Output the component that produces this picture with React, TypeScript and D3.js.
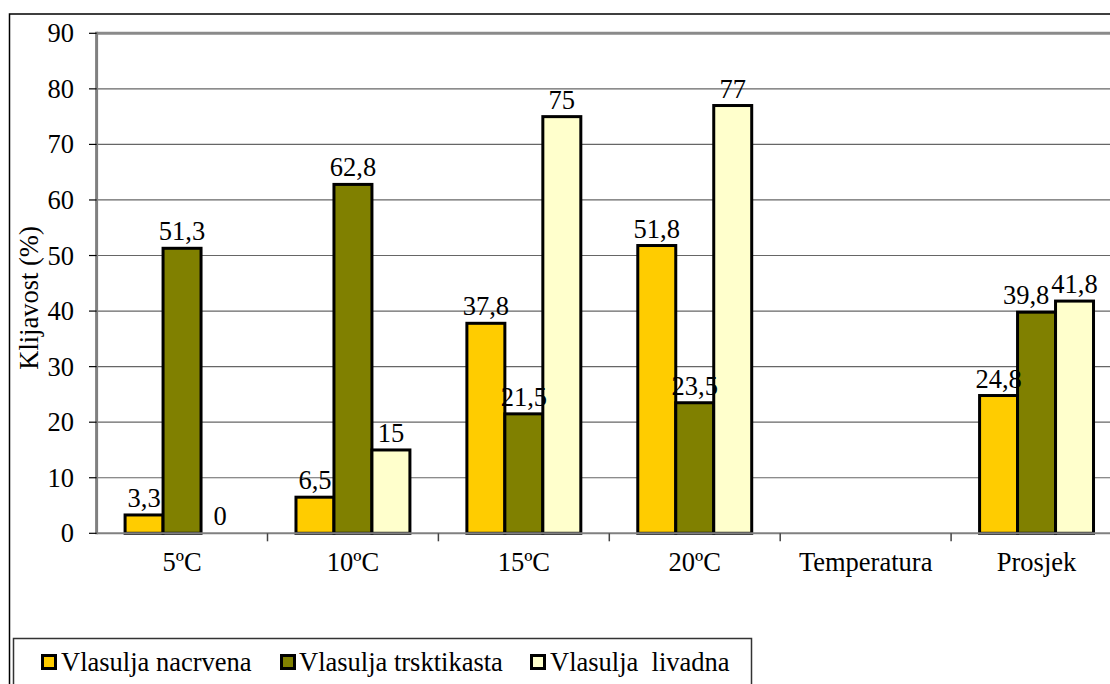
import React from "react";
import * as d3 from "d3";

const categories = ["5ºC", "10ºC", "15ºC", "20ºC", "Temperatura", "Prosjek"];
const seriesNames = ["Vlasulja nacrvena", "Vlasulja trsktikasta", "Vlasulja  livadna"];
const nacrvena: (number | null)[] = [3.3, 6.5, 37.8, 51.8, null, 24.8];
const trsktikasta: (number | null)[] = [51.3, 62.8, 21.5, 23.5, null, 39.8];
const livadna: (number | null)[] = [0, 15, 75, 77, null, 41.8];
const yTicks = [0, 10, 20, 30, 40, 50, 60, 70, 80, 90];
const colors = ["#FFCC00", "#808000", "#FFFFCC"];
const yTitle = "Klijavost (%)";

const W = 1110;
const H = 684;
const FONT = "Liberation Serif, Times New Roman, DejaVu Serif, serif";
const FS = 26.5;

export default function App() {
  const plotLeft = 96.6;
  const plotRight = 1122;
  const plotTop = 33.3;
  const plotBottom = 533.3;

  const x = d3.scaleBand<string>().domain(categories).range([plotLeft, plotRight]).paddingInner(0).paddingOuter(0);
  const y = d3.scaleLinear().domain([0, 90]).range([plotBottom, plotTop]);
  const bw = x.bandwidth() / 4.5;
  const inner = d3
    .scaleBand<string>()
    .domain(seriesNames)
    .range([(x.bandwidth() - 3 * bw) / 2, (x.bandwidth() + 3 * bw) / 2]);

  const allSeries = [nacrvena, trsktikasta, livadna];
  const fmt = (v: number) => String(v).replace(".", ",");
  const textW = (s: string) =>
    s.split("").reduce((a, ch) => a + (ch === "," ? 0.25 : 0.5), 0) * FS;

  // label placement with simple collision avoidance inside each category
  type Lbl = { key: string; x: number; y: number; text: string };
  const labels: Lbl[] = [];
  categories.forEach((c, ci) => {
    const group: Lbl[] = [];
    allSeries.forEach((s, si) => {
      const v = s[ci];
      if (v === null) return;
      group.push({
        key: `l${si}-${ci}`,
        x: (x(c) as number) + (inner(seriesNames[si]) as number) + bw / 2,
        y: y(v) - 8,
        text: fmt(v),
      });
    });
    for (let i = group.length - 2; i >= 0; i--) {
      const a = group[i];
      const b = group[i + 1];
      if (Math.abs(a.y - b.y) < FS * 0.75) {
        const overlap = a.x + textW(a.text) / 2 - (b.x - textW(b.text) / 2);
        if (overlap > -1) a.x -= overlap + 2;
      }
    }
    labels.push(...group);
  });

  const legendItems = [
    { mx: 41, tx: 61 },
    { mx: 280, tx: 299 },
    { mx: 530, tx: 550 },
  ];

  const T = (props: any) => <text fontFamily={FONT} fontSize={FS} fill="#000" {...props} />;

  return (
    <div style={{ position: "absolute", left: 0, top: 0, width: W, height: H, overflow: "hidden", background: "#fff" }}>
      <svg width={W} height={H} style={{ display: "block" }} fontFamily={FONT}>
        <rect x={0} y={0} width={W} height={H} fill="#fff" />
        {/* outer chart border */}
        <rect x={9.5} y={14} width={1200} height={800} fill="none" stroke="#000" strokeWidth={1.5} />

        {/* gridlines */}
        {yTicks.slice(1, -1).map((t) => (
          <line key={"g" + t} x1={plotLeft} x2={plotRight} y1={y(t)} y2={y(t)} stroke="#666" strokeWidth={1.2} />
        ))}
        {/* plot top border */}
        <line x1={plotLeft} x2={plotRight} y1={y(90)} y2={y(90)} stroke="#8a8a8a" strokeWidth={3} />

        {/* bars */}
        {allSeries.map((s, si) =>
          s.map((v, ci) => {
            if (v === null || v === 0) return null;
            const bx = (x(categories[ci]) as number) + (inner(seriesNames[si]) as number);
            return (
              <rect
                key={`b${si}-${ci}`}
                x={bx}
                y={y(v)}
                width={bw}
                height={y(0) - y(v)}
                fill={colors[si]}
                stroke="#000"
                strokeWidth={3}
              />
            );
          })
        )}

        {/* axes */}
        <line x1={plotLeft} x2={plotRight} y1={y(0)} y2={y(0)} stroke="#808080" strokeWidth={2} />
        <line x1={plotLeft} x2={plotLeft} y1={y(90) - 1.5} y2={y(0) + 1} stroke="#808080" strokeWidth={3} />
        {yTicks.map((t) => (
          <g key={"yt" + t}>
            <line x1={89} x2={plotLeft} y1={y(t)} y2={y(t)} stroke="#000" strokeWidth={1.2} />
            <T x={74} y={y(t)} dy="0.34em" textAnchor="end">
              {t}
            </T>
          </g>
        ))}
        {categories.map((c) => (
          <g key={"xt" + c}>
            <line
              x1={(x(c) as number) + x.bandwidth()}
              x2={(x(c) as number) + x.bandwidth()}
              y1={y(0)}
              y2={y(0) + 8}
              stroke="#444"
              strokeWidth={1.5}
            />
            <T x={(x(c) as number) + x.bandwidth() / 2} y={571} textAnchor="middle">
              {c}
            </T>
          </g>
        ))}

        {/* data labels */}
        {labels.map((l) => (
          <T key={l.key} x={l.x} y={l.y} textAnchor="middle">
            {l.text}
          </T>
        ))}

        {/* y title */}
        <T transform={`translate(38, 298) rotate(-90)`} textAnchor="middle">
          {yTitle}
        </T>

        {/* legend */}
        <rect x={13.5} y={638.5} width={738} height={80} fill="#fff" stroke="#333" strokeWidth={1.5} />
        {seriesNames.map((n, i) => (
          <g key={"lg" + i}>
            <rect x={legendItems[i].mx + 1.5} y={655.5} width={13} height={13} fill={colors[i]} stroke="#000" strokeWidth={3} />
            <T x={legendItems[i].tx} y={671} style={{ whiteSpace: "pre" }}>
              {n}
            </T>
          </g>
        ))}
      </svg>
    </div>
  );
}
